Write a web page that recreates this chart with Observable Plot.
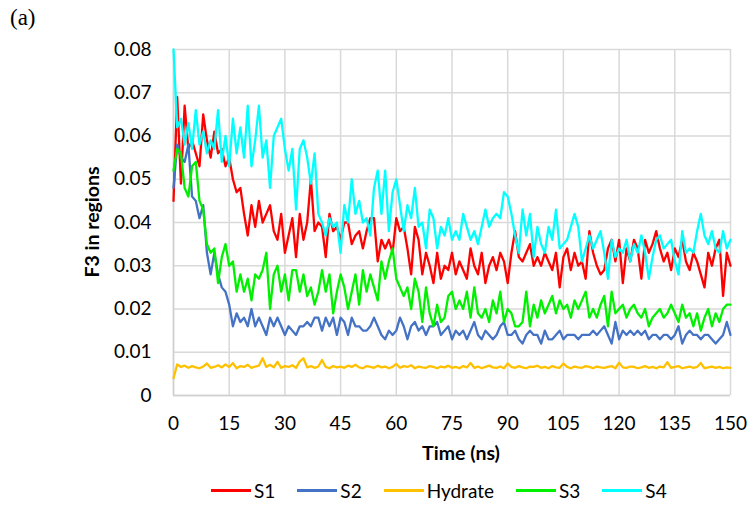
<!DOCTYPE html>
<html>
<head>
<meta charset="utf-8">
<script src="https://cdn.jsdelivr.net/npm/d3@7"></script>
<script src="https://cdn.jsdelivr.net/npm/@observablehq/plot@0.6"></script>
<style>
  body { margin: 0; background: #fff; }
  #wrap { position: relative; width: 751px; height: 507px; font-family: Lato, "Open Sans", sans-serif; color: #000; }
  #tag { position: absolute; left: 10px; top: 5px; font-family: "Liberation Serif", "DejaVu Serif", serif; font-size: 23px; }
  #ylab { position: absolute; left: 91px; top: 222px; transform: translate(-50%, -50%) rotate(-90deg); font-weight: bold; font-size: 19.5px; white-space: nowrap; }
  #xlab { position: absolute; left: 461px; top: 452px; transform: translate(-50%, -50%); font-weight: bold; font-size: 19.5px; white-space: nowrap; }
  #legend { position: absolute; left: 211px; top: 479px; display: flex; align-items: center; font-size: 19px; white-space: nowrap; }
  .item { display: flex; align-items: center; margin-right: 22px; }
  .sw { width: 40px; height: 3px; margin-right: 3px; }
</style>
</head>
<body>
<div id="wrap">
  <div id="chart"></div>
  <div id="tag">(a)</div>
  <div id="ylab">F3 in regions</div>
  <div id="xlab">Time (ns)</div>
  <div id="legend"></div>
</div>
<script>
const seriesNames = ["S1", "S2", "Hydrate", "S3", "S4"];
const seriesColors = ["#ff0000", "#4472c4", "#ffc000", "#00f000", "#00ffff"];
const xTicks = [0, 15, 30, 45, 60, 75, 90, 105, 120, 135, 150];
const yTicks = [0, 0.01, 0.02, 0.03, 0.04, 0.05, 0.06, 0.07, 0.08];
const timeStep = 1; // ns between samples

const s1 = [0.045,0.069,0.049,0.067,0.057,0.059,0.056,0.053,0.065,0.059,
0.055,0.061,0.056,0.057,0.053,0.055,0.050,0.047,0.048,0.042,
0.037,0.044,0.039,0.045,0.040,0.042,0.044,0.038,0.036,0.042,
0.033,0.037,0.041,0.032,0.042,0.036,0.040,0.050,0.038,0.040,
0.039,0.032,0.042,0.038,0.039,0.036,0.040,0.040,0.035,0.037,
0.038,0.034,0.038,0.041,0.041,0.031,0.036,0.034,0.036,0.033,
0.041,0.038,0.039,0.034,0.028,0.039,0.036,0.028,0.033,0.030,
0.026,0.033,0.027,0.030,0.029,0.033,0.028,0.031,0.029,0.027,
0.034,0.030,0.028,0.033,0.026,0.030,0.032,0.029,0.033,0.031,
0.026,0.033,0.038,0.032,0.031,0.033,0.035,0.030,0.032,0.030,
0.033,0.031,0.029,0.033,0.025,0.032,0.034,0.029,0.033,0.030,
0.031,0.027,0.038,0.033,0.030,0.028,0.029,0.034,0.036,0.031,
0.036,0.026,0.034,0.031,0.036,0.034,0.027,0.036,0.033,0.035,
0.038,0.034,0.031,0.033,0.029,0.034,0.032,0.036,0.031,0.029,
0.033,0.031,0.028,0.025,0.033,0.030,0.034,0.036,0.023,0.033,
0.030];

const s2 = [0.048,0.058,0.055,0.054,0.058,0.046,0.045,0.041,0.044,0.033,
0.028,0.033,0.028,0.025,0.024,0.021,0.016,0.019,0.017,0.018,
0.016,0.020,0.016,0.018,0.016,0.014,0.018,0.016,0.018,0.016,
0.014,0.016,0.015,0.014,0.016,0.016,0.017,0.016,0.018,0.018,
0.015,0.018,0.016,0.018,0.014,0.018,0.017,0.014,0.018,0.016,
0.016,0.015,0.015,0.016,0.018,0.016,0.014,0.013,0.015,0.014,
0.015,0.018,0.016,0.013,0.016,0.017,0.015,0.016,0.014,0.016,
0.016,0.017,0.014,0.015,0.016,0.013,0.015,0.014,0.015,0.013,
0.015,0.017,0.014,0.013,0.015,0.014,0.013,0.014,0.016,0.017,
0.014,0.014,0.015,0.013,0.012,0.014,0.015,0.014,0.014,0.012,
0.015,0.013,0.013,0.014,0.015,0.013,0.014,0.014,0.014,0.013,
0.014,0.014,0.014,0.015,0.014,0.015,0.016,0.014,0.012,0.017,
0.013,0.015,0.014,0.015,0.014,0.015,0.014,0.015,0.013,0.014,
0.014,0.013,0.014,0.014,0.013,0.014,0.016,0.012,0.014,0.015,
0.014,0.014,0.013,0.014,0.014,0.013,0.012,0.013,0.014,0.017,
0.014];

const hydrate = [0.0040,0.0072,0.0066,0.0069,0.0064,0.0068,0.0065,0.0063,0.0067,0.0074,
0.0064,0.0066,0.0070,0.0065,0.0072,0.0066,0.0075,0.0063,0.0068,0.0066,
0.0071,0.0064,0.0067,0.0069,0.0086,0.0066,0.0071,0.0065,0.0078,0.0064,
0.0068,0.0066,0.0070,0.0064,0.0079,0.0086,0.0065,0.0068,0.0064,0.0067,
0.0082,0.0066,0.0063,0.0068,0.0065,0.0067,0.0064,0.0069,0.0066,0.0071,
0.0065,0.0063,0.0068,0.0066,0.0064,0.0069,0.0065,0.0067,0.0063,0.0066,
0.0073,0.0064,0.0068,0.0066,0.0070,0.0063,0.0067,0.0065,0.0064,0.0068,
0.0066,0.0063,0.0067,0.0065,0.0069,0.0064,0.0066,0.0063,0.0068,0.0065,
0.0075,0.0064,0.0067,0.0063,0.0066,0.0069,0.0065,0.0064,0.0067,0.0063,
0.0074,0.0066,0.0064,0.0068,0.0065,0.0063,0.0067,0.0066,0.0069,0.0064,
0.0066,0.0063,0.0068,0.0065,0.0064,0.0074,0.0066,0.0063,0.0067,0.0065,
0.0064,0.0068,0.0066,0.0063,0.0067,0.0065,0.0064,0.0066,0.0068,0.0063,
0.0076,0.0065,0.0064,0.0067,0.0066,0.0063,0.0065,0.0068,0.0064,0.0066,
0.0063,0.0067,0.0065,0.0077,0.0064,0.0066,0.0068,0.0063,0.0065,0.0067,
0.0064,0.0066,0.0075,0.0063,0.0065,0.0067,0.0064,0.0066,0.0063,0.0065,
0.0064];

const s3 = [0.052,0.057,0.056,0.048,0.046,0.053,0.054,0.045,0.043,0.035,
0.033,0.034,0.026,0.032,0.035,0.030,0.031,0.024,0.028,0.024,
0.027,0.022,0.028,0.027,0.029,0.033,0.020,0.028,0.030,0.024,
0.028,0.022,0.029,0.029,0.024,0.028,0.023,0.025,0.021,0.024,
0.029,0.024,0.028,0.019,0.024,0.028,0.025,0.020,0.024,0.028,
0.021,0.029,0.024,0.028,0.025,0.022,0.031,0.027,0.031,0.034,
0.027,0.025,0.023,0.025,0.020,0.027,0.024,0.017,0.025,0.019,
0.016,0.021,0.017,0.018,0.023,0.024,0.020,0.022,0.020,0.024,
0.018,0.025,0.019,0.018,0.020,0.017,0.022,0.019,0.024,0.017,
0.020,0.019,0.016,0.016,0.017,0.024,0.016,0.021,0.018,0.022,
0.019,0.021,0.023,0.019,0.022,0.020,0.021,0.018,0.022,0.020,
0.022,0.024,0.018,0.020,0.018,0.021,0.023,0.016,0.024,0.019,
0.020,0.021,0.018,0.020,0.021,0.019,0.018,0.020,0.016,0.018,
0.019,0.020,0.018,0.019,0.021,0.019,0.017,0.021,0.018,0.019,
0.016,0.019,0.015,0.018,0.020,0.016,0.019,0.017,0.020,0.021,
0.021];

const s4 = [0.080,0.062,0.064,0.058,0.063,0.057,0.066,0.058,0.061,0.056,
0.059,0.057,0.066,0.054,0.060,0.053,0.064,0.056,0.062,0.055,
0.067,0.053,0.059,0.067,0.055,0.059,0.048,0.060,0.062,0.064,
0.057,0.052,0.057,0.043,0.057,0.059,0.055,0.049,0.056,0.042,
0.040,0.037,0.041,0.039,0.040,0.033,0.044,0.040,0.050,0.042,
0.045,0.040,0.041,0.037,0.048,0.052,0.042,0.052,0.038,0.047,
0.050,0.044,0.038,0.044,0.041,0.048,0.039,0.040,0.034,0.043,
0.041,0.034,0.039,0.037,0.041,0.036,0.038,0.036,0.042,0.039,
0.036,0.038,0.035,0.039,0.043,0.039,0.041,0.042,0.041,0.047,
0.046,0.042,0.037,0.033,0.043,0.037,0.042,0.032,0.039,0.035,
0.033,0.039,0.036,0.043,0.034,0.035,0.036,0.039,0.042,0.039,
0.031,0.034,0.037,0.034,0.036,0.038,0.033,0.027,0.036,0.032,
0.034,0.033,0.036,0.031,0.035,0.033,0.037,0.033,0.027,0.032,
0.036,0.037,0.034,0.035,0.036,0.031,0.028,0.038,0.033,0.034,
0.033,0.038,0.042,0.037,0.035,0.038,0.034,0.033,0.038,0.034,
0.036];

const seriesValues = [s1, s2, hydrate, s3, s4];

const rows = seriesNames.flatMap((name, k) =>
  seriesValues[k].map((v, i) => ({ name, t: i * timeStep, v }))
);

const chart = Plot.plot({
  width: 751,
  height: 470,
  marginTop: 49,
  marginRight: 21,
  marginBottom: 75,
  marginLeft: 173,
  style: { fontFamily: "Lato, 'Open Sans', sans-serif", fontSize: "19px", color: "#000", background: "#fff" },
  x: { domain: [0, 150] },
  y: { domain: [0, 0.08] },
  color: { domain: seriesNames, range: seriesColors },
  marks: [
    Plot.gridX(xTicks, { stroke: "#d9d9d9", strokeOpacity: 1, strokeWidth: 1.5 }),
    Plot.gridY(yTicks, { stroke: "#d9d9d9", strokeOpacity: 1, strokeWidth: 1.5 }),
    Plot.ruleY([0], { stroke: "#d0d0d0", strokeWidth: 1.5 }),
    Plot.ruleX([0], { stroke: "#d0d0d0", strokeWidth: 1.5 }),
    Plot.axisX(xTicks, { tickSize: 0, tickPadding: 21, label: null }),
    Plot.axisY(yTicks, { tickSize: 0, tickPadding: 22, label: null, tickFormat: d => d === 0 ? "0" : d.toFixed(2) }),
    Plot.line(rows, { x: "t", y: "v", z: "name", stroke: "name", strokeWidth: 2.3, strokeLinejoin: "round" })
  ]
});
document.getElementById("chart").appendChild(chart);

const legend = document.getElementById("legend");
seriesNames.forEach((n, k) => {
  const it = document.createElement("div");
  it.className = "item";
  it.innerHTML = `<span class="sw" style="background:${seriesColors[k]}"></span><span>${n}</span>`;
  legend.appendChild(it);
});
</script>
</body>
</html>
